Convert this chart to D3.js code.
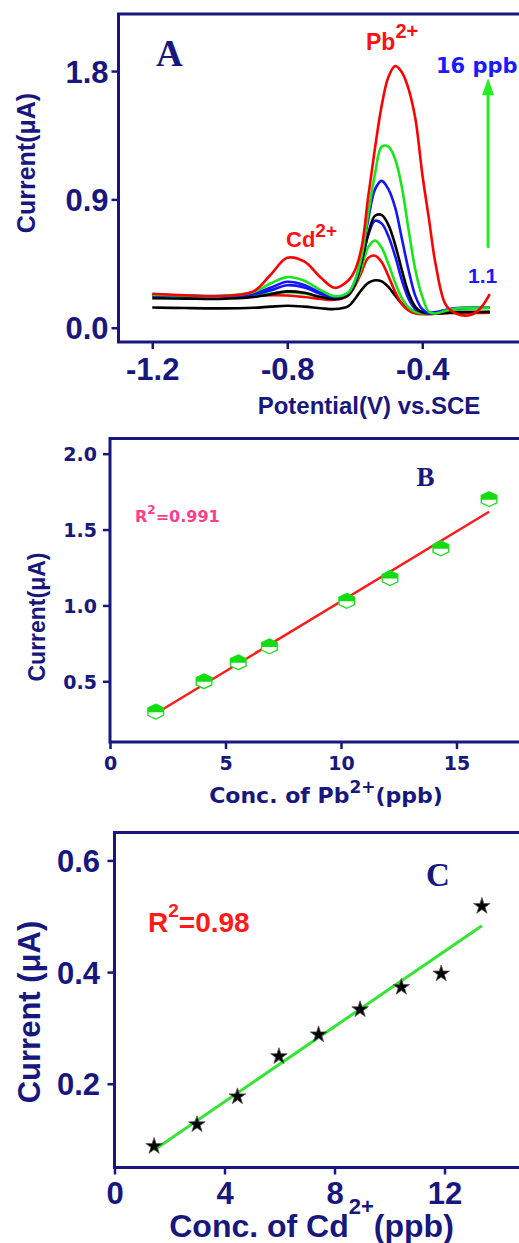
<!DOCTYPE html>
<html><head><meta charset="utf-8">
<script src="https://cdn.jsdelivr.net/npm/d3@7"></script>
<style>body{margin:0;background:#fff}svg{display:block}</style>
</head><body>
<script>
// ---------- DATA ----------
// Panel A: stripping voltammograms (potential grid, V vs SCE)
const potential = [-1.2,-1.1,-1.0,-0.9,-0.85,-0.8,-0.75,-0.7,-0.66,-0.62,-0.6,-0.58,-0.56,-0.54,-0.52,-0.5,-0.48,-0.46,-0.44,-0.42,-0.4,-0.38,-0.36,-0.33,-0.3,-0.26,-0.23,-0.2];
const curve1 = [0.142,0.138,0.136,0.140,0.148,0.154,0.148,0.137,0.131,0.150,0.200,0.265,0.315,0.333,0.325,0.285,0.225,0.168,0.132,0.112,0.104,0.102,0.104,0.108,0.110,0.110,0.110,0.112];
const curve2 = [0.228,0.222,0.218,0.222,0.228,0.226,0.216,0.202,0.196,0.225,0.290,0.390,0.490,0.505,0.460,0.360,0.250,0.165,0.120,0.100,0.095,0.095,0.098,0.102,0.104,0.104,0.104,0.105];
const curve3 = [0.225,0.220,0.216,0.226,0.240,0.250,0.240,0.216,0.205,0.232,0.300,0.420,0.565,0.612,0.560,0.445,0.315,0.205,0.140,0.110,0.100,0.100,0.105,0.118,0.128,0.134,0.136,0.138];
const curve4 = [0.226,0.221,0.217,0.234,0.262,0.298,0.282,0.236,0.210,0.238,0.310,0.460,0.650,0.750,0.730,0.640,0.500,0.330,0.200,0.130,0.110,0.105,0.110,0.125,0.135,0.140,0.140,0.140];
const curve5 = [0.208,0.204,0.202,0.215,0.235,0.255,0.245,0.215,0.200,0.228,0.300,0.460,0.660,0.785,0.790,0.720,0.580,0.400,0.240,0.145,0.108,0.100,0.100,0.104,0.108,0.110,0.110,0.110];
const curve6 = [0.232,0.226,0.222,0.240,0.280,0.322,0.300,0.245,0.215,0.242,0.320,0.500,0.760,0.970,1.030,0.970,0.840,0.620,0.400,0.220,0.130,0.100,0.105,0.125,0.138,0.140,0.140,0.140];
const curve7 = [0.232,0.226,0.222,0.250,0.310,0.355,0.330,0.262,0.222,0.245,0.330,0.500,0.800,1.080,1.270,1.270,1.180,0.980,0.680,0.400,0.220,0.110,0.100,0.120,0.135,0.140,0.140,0.140];
const curve8 = [0.238,0.228,0.222,0.255,0.370,0.490,0.465,0.350,0.280,0.330,0.400,0.560,0.920,1.260,1.560,1.760,1.835,1.790,1.670,1.460,1.080,0.760,0.440,0.160,0.100,0.088,0.130,0.235];
// Panel B: Pb2+ calibration
const pbConc    = [1.98, 4.07, 5.55, 6.90, 10.25, 12.12, 14.32, 16.41];
const pbCurrent = [0.30, 0.50, 0.625, 0.73, 1.03, 1.18, 1.376, 1.70];
// Panel C: Cd2+ calibration
const cdConc    = [1.44, 3.00, 4.47, 5.98, 7.42, 8.93, 10.43, 11.88, 13.36];
const cdCurrent = [0.088, 0.127, 0.177, 0.249, 0.288, 0.333, 0.373, 0.397, 0.518];
// Tick values
const ticksAx = [-1.2, -0.8, -0.4];
const ticksAy = [0.0, 0.9, 1.8];
const ticksBx = [0, 5, 10, 15];
const ticksBy = [0.5, 1.0, 1.5, 2.0];
const ticksCx = [0, 4, 8, 12];
const ticksCy = [0.2, 0.4, 0.6];

// ---------- STYLE ----------
const NAVY = "#17177e";
const SANS = "'Liberation Sans', Arial, sans-serif";
const DEJA = "'DejaVu Sans', sans-serif";
const SERIF = "'Liberation Serif', 'Times New Roman', serif";

const svg = d3.select("body").append("svg").attr("width", 519).attr("height", 1243);

function frame(x, y, id) {
  const [x0, x1] = x.range(), [y0, y1] = y.range();
  svg.append("clipPath").attr("id", id).append("rect")
    .attr("x", x0).attr("y", y1).attr("width", x1 - x0).attr("height", y0 - y1);
  svg.append("rect").attr("x", x0).attr("y", y1).attr("width", x1 - x0).attr("height", y0 - y1)
    .attr("fill", "none").attr("stroke", NAVY).attr("stroke-width", 3);
}
function axisX(x, y, ticks, fmt, font, ty) {
  const g = svg.append("g").attr("transform", `translate(0,${y.range()[0]})`)
    .call(d3.axisBottom(x).tickValues(ticks).tickSize(7).tickFormat(fmt));
  g.select(".domain").remove();
  g.selectAll("line").attr("stroke", NAVY).attr("stroke-width", 2.5);
  g.selectAll("text").attr("dy", null).attr("y", ty).attr("fill", NAVY).style("font", font);
}
function axisY(x, y, ticks, fmt, font, tx) {
  const g = svg.append("g").attr("transform", `translate(${x.range()[0]},0)`)
    .call(d3.axisLeft(y).tickValues(ticks).tickSize(7).tickFormat(fmt));
  g.select(".domain").remove();
  g.selectAll("line").attr("stroke", NAVY).attr("stroke-width", 2.5);
  g.selectAll("text").attr("x", tx).attr("dy", "0.36em").attr("fill", NAVY).style("font", font);
}
function label(x, y, parts, anchor, rotate) {
  const t = svg.append("text").attr("text-anchor", anchor || "start")
    .attr("transform", `translate(${x},${y})` + (rotate ? " rotate(-90)" : ""));
  parts.forEach(p => {
    const s = t.append("tspan").text(p.t).attr("fill", p.c || NAVY).style("font", p.f);
    if (p.dy) s.attr("dy", p.dy);
  });
  return t;
}
function fit(xs, ys) {
  const mx = d3.mean(xs), my = d3.mean(ys);
  const sxy = d3.sum(xs, (v, i) => (v - mx) * (ys[i] - my));
  const sxx = d3.sum(xs, v => (v - mx) * (v - mx));
  const b = sxy / sxx;
  return { b, a: my - b * mx };
}
const f1 = d => d.toFixed(1);

// ---------- PANEL A ----------
const xA = d3.scaleLinear().domain([-1.3, 0]).range([118.5, 557.25]);
const yA = d3.scaleLinear().domain([-0.1, 2.2]).range([342, 14]);
const curves = [curve1, curve2, curve3, curve4, curve5, curve6, curve7, curve8];
const curveColors = ["#000000", "#ff0000", "#19e619", "#1414ff", "#000000", "#1414ff", "#19e619", "#ff0000"];
const lineA = d3.line().x((d, i) => xA(potential[i])).y(d => yA(d)).curve(d3.curveCatmullRom.alpha(0.5));
svg.append("g").attr("clip-path", "url(#clipA)").selectAll("path").data(curves).join("path")
  .attr("d", lineA).attr("fill", "none").attr("stroke", (d, i) => curveColors[i]).attr("stroke-width", 2.6);
frame(xA, yA, "clipA");
axisX(xA, yA, ticksAx, f1, `bold 31px ${SANS}`, 38);
axisY(xA, yA, ticksAy, f1, `bold 31px ${SANS}`, -10);
label(369, 414, [{t: "Potential(V) vs.SCE", f: `bold 24px ${SANS}`}], "middle");
label(35, 163, [{t: "Current(μA)", f: `bold 25px ${SANS}`}], "middle", true);
label(156, 66, [{t: "A", f: `bold 37px ${SERIF}`}]);
label(366, 50, [{t: "Pb", f: `bold 23px ${SANS}`, c: "#ff1010"}, {t: "2+", f: `bold 20px ${SANS}`, c: "#ff1010", dy: -12}]);
label(286, 247, [{t: "Cd", f: `bold 22px ${SANS}`, c: "#ff1010"}, {t: "2+", f: `bold 19px ${SANS}`, c: "#ff1010", dy: -10}]);
label(436, 73, [{t: "16 ppb", f: `bold 21px ${DEJA}`, c: "#1a1aff"}]);
label(468, 283, [{t: "1.1", f: `bold 21px ${SANS}`, c: "#1a1aff"}]);
// growth arrow
const ax = xA(-0.205), ay0 = yA(0.56), ay1 = yA(1.75);
svg.append("line").attr("x1", ax).attr("x2", ax).attr("y1", ay0).attr("y2", ay1 + 14)
  .attr("stroke", "#22ee22").attr("stroke-width", 3);
svg.append("path").attr("d", `M${ax},${ay1} L${ax - 6},${ay1 + 17} L${ax + 6},${ay1 + 17} Z`).attr("fill", "#22ee22");

// ---------- PANEL B ----------
const xB = d3.scaleLinear().domain([0, 18]).range([110, 525.8]);
const yB = d3.scaleLinear().domain([0.1, 2.1]).range([742, 438.5]);
frame(xB, yB, "clipB");
const fb = fit(pbConc, pbCurrent);
const xbMin = d3.min(pbConc), xbMax = d3.max(pbConc);
svg.append("line").attr("x1", xB(xbMin)).attr("y1", yB(fb.a + fb.b * xbMin))
  .attr("x2", xB(xbMax)).attr("y2", yB(fb.a + fb.b * xbMax))
  .attr("stroke", "#ff1a1a").attr("stroke-width", 2.4);
const hw = 7.8, hh = 7.4;
const hexFull = `M0,${-hh} L${hw},${-hh/2} L${hw},${hh/2} L0,${hh} L${-hw},${hh/2} L${-hw},${-hh/2} Z`;
const hexTop = `M0,${-hh} L${hw},${-hh/2} L${hw},0.5 L${-hw},0.5 L${-hw},${-hh/2} Z`;
const gm = svg.append("g").selectAll("g").data(pbConc).join("g")
  .attr("transform", (d, i) => `translate(${xB(d)},${yB(pbCurrent[i])})`);
gm.append("path").attr("d", hexFull).attr("fill", "#fff").attr("stroke", "#22e022").attr("stroke-width", 1.4);
gm.append("path").attr("d", hexTop).attr("fill", "#11dd11");
axisX(xB, yB, ticksBx, d => d, `bold 19px ${DEJA}`, 28);
axisY(xB, yB, ticksBy, f1, `bold 19px ${DEJA}`, -13);
label(326, 803, [{t: "Conc. of Pb", f: `bold 22px ${DEJA}`}, {t: "2+", f: `bold 17px ${DEJA}`, dy: -10}, {t: "(ppb)", f: `bold 22px ${DEJA}`, dy: 10}], "middle");
label(45, 617, [{t: "Current(μA)", f: `bold 23px ${SANS}`}], "middle", true);
label(416.5, 486, [{t: "B", f: `bold 27px ${SERIF}`}]);
label(135, 521.7, [{t: "R", f: `bold 16px ${DEJA}`, c: "#ff3d8b"}, {t: "2", f: `bold 12px ${DEJA}`, c: "#ff3d8b", dy: -8}, {t: "=0.991", f: `bold 16px ${DEJA}`, c: "#ff3d8b", dy: 8}]);

// ---------- PANEL C ----------
const xC = d3.scaleLinear().domain([0, 15]).range([114.5, 527]);
const yC = d3.scaleLinear().domain([0.05, 0.65]).range([1167.5, 832.5]);
frame(xC, yC, "clipC");
const fc = fit(cdConc, cdCurrent);
const xcMin = d3.min(cdConc), xcMax = d3.max(cdConc);
svg.append("line").attr("x1", xC(xcMin)).attr("y1", yC(fc.a + fc.b * xcMin))
  .attr("x2", xC(xcMax)).attr("y2", yC(fc.a + fc.b * xcMax))
  .attr("stroke", "#33e633").attr("stroke-width", 3);
svg.append("g").selectAll("path").data(cdConc).join("path")
  .attr("d", d3.symbol(d3.symbolStar, 85))
  .attr("transform", (d, i) => `translate(${xC(d)},${yC(cdCurrent[i])})`)
  .attr("fill", "#000").attr("stroke", "#555").attr("stroke-width", 0.8);
axisX(xC, yC, ticksCx, d => d, `bold 31px ${SANS}`, 36);
axisY(xC, yC, ticksCy, f1, `bold 31px ${SANS}`, -14.5);
label(311.5, 1237, [{t: "Conc. of Cd", f: `bold 32px ${SANS}`}, {t: "2+", f: `bold 22px ${SANS}`, dy: -23}, {t: "(ppb)", f: `bold 32px ${SANS}`, dy: 23}], "middle");
label(40, 1012, [{t: "Current (μA)", f: `bold 31px ${SANS}`}], "middle", true);
label(426, 886, [{t: "C", f: `bold 33px ${SERIF}`}]);
label(148, 931.7, [{t: "R", f: `bold 28px ${SANS}`, c: "#ff1a1a"}, {t: "2", f: `bold 19px ${SANS}`, c: "#ff1a1a", dy: -15}, {t: "=0.98", f: `bold 28px ${SANS}`, c: "#ff1a1a", dy: 15}]);
</script>
</body></html>
